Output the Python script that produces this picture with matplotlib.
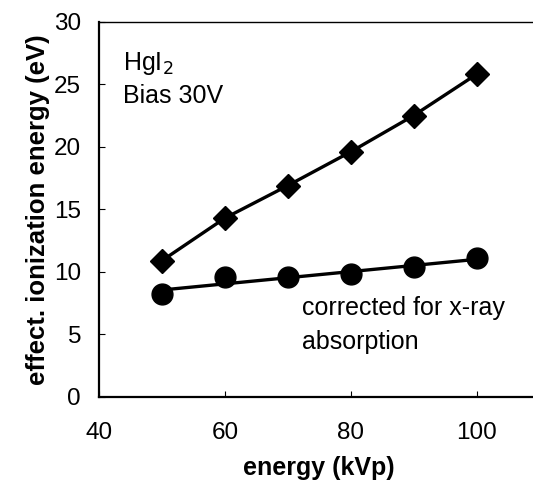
import numpy as np
import matplotlib.pyplot as plt

plt.rcParams['font.family'] = ['Liberation Sans', 'DejaVu Sans']

energy = [50, 60, 70, 80, 90, 100]
ion_raw = [10.9, 14.3, 16.9, 19.6, 22.5, 25.8]
ion_corrected = [8.2, 9.6, 9.55, 9.8, 10.4, 11.1]

def create_chart():
    fig = plt.figure(figsize=(5.33, 4.84), dpi=100)
    ax = fig.add_axes([0.186, 0.18, 0.826, 0.775])

    ax.plot(energy, ion_raw, color='black', lw=2.4, marker='D', ms=12.5,
            markerfacecolor='black', zorder=3)

    # linear trend for corrected values
    k, b = np.polyfit(energy, ion_corrected, 1)
    xs = np.array([energy[0], energy[-1]])
    ax.plot(xs, k * xs + b, color='black', lw=2.4, zorder=2)
    ax.plot(energy, ion_corrected, linestyle='none', marker='o', ms=15,
            color='black', zorder=3)

    ax.set_xlim(40, 110)
    ax.set_ylim(0, 30)
    ax.set_xticks([40, 60, 80, 100])
    ax.set_yticks([0, 5, 10, 15, 20, 25, 30])
    ax.tick_params(direction='in', labelsize=17.5, length=4, width=0.8)
    ax.tick_params(axis='x', pad=18)
    ax.tick_params(axis='y', pad=13)

    ax.spines['left'].set_linewidth(1.6)
    ax.spines['bottom'].set_linewidth(1.6)
    ax.spines['top'].set_linewidth(1.0)
    ax.spines['right'].set_visible(False)

    ax.set_ylabel('effect. ionization energy (eV)', fontsize=18.5,
                  fontweight='bold', labelpad=3)
    ax.set_xlabel('energy (kVp)', fontsize=18, fontweight='bold', labelpad=9)

    ax.text(43.8, 26.7, 'HgI$_2$', fontsize=18, va='center')
    ax.text(43.8, 24.1, 'Bias 30V', fontsize=18, va='center')
    ax.text(72.2, 7.1, 'corrected for x-ray', fontsize=18, va='center')
    ax.text(72.2, 4.4, 'absorption', fontsize=18, va='center')

    fig.savefig('out.png', dpi=100)

create_chart()
